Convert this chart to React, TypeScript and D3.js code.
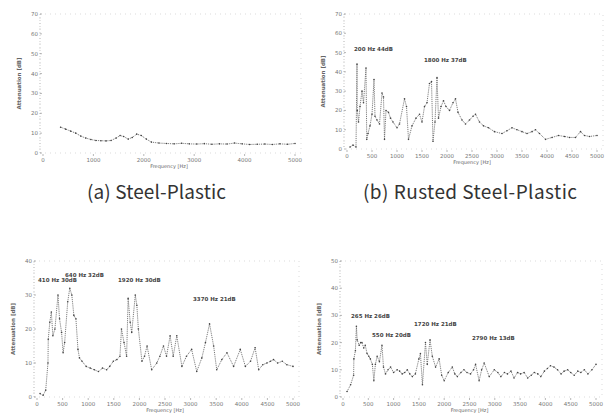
import React from 'react';
import * as d3 from 'd3';

// frequency [Hz], attenuation [dB]
const steelPlastic: [number, number][] = [
  [350, 13], [450, 12], [550, 11], [650, 10], [750, 8.5], [850, 7.5], [950, 6.8], [1050, 6.3],
  [1150, 6.2], [1250, 6.1], [1350, 6.3], [1450, 7.5], [1530, 8.8], [1600, 8.3], [1690, 7],
  [1770, 7.8], [1860, 9.5], [1950, 8.8], [2050, 7], [2150, 5.5], [2300, 5], [2450, 4.8],
  [2600, 4.6], [2750, 4.9], [2900, 4.6], [3050, 4.5], [3200, 4.7], [3350, 4.4], [3500, 4.6],
  [3650, 4.5], [3800, 5], [3950, 4.6], [4100, 4.3], [4250, 4.4], [4400, 4.5], [4550, 4.3],
  [4700, 4.6], [4850, 4.4], [5000, 4.8],
];

const rustedSteelPlastic: [number, number][] = [
  [60, 1], [120, 2], [180, 1], [200, 44], [205, 20], [230, 14], [260, 22], [300, 30], [330, 24],
  [380, 42], [395, 5], [420, 8], [460, 12], [500, 18], [540, 36], [560, 17], [600, 15], [650, 13],
  [700, 29], [730, 27], [750, 5], [780, 20], [830, 19], [870, 16], [920, 14], [1000, 11],
  [1050, 13], [1150, 26], [1190, 22], [1230, 5], [1300, 12], [1380, 16], [1450, 18], [1500, 14],
  [1550, 22], [1600, 24], [1650, 34], [1690, 35], [1720, 4], [1760, 14], [1800, 37], [1830, 16],
  [1880, 22], [1930, 25], [1980, 22], [2050, 20], [2120, 24], [2170, 26], [2220, 19], [2300, 15],
  [2370, 13], [2450, 15], [2520, 17], [2570, 18], [2650, 14], [2730, 12], [2830, 11], [2950, 9],
  [3100, 8], [3200, 9.5], [3300, 11], [3400, 10], [3500, 9], [3600, 8], [3700, 9], [3770, 10],
  [3850, 8], [3970, 5], [4100, 6], [4230, 7], [4350, 6.5], [4450, 6], [4570, 6], [4670, 9],
  [4750, 7], [4850, 6.5], [5000, 7],
];

const seriesC: [number, number][] = [
  [60, 1], [120, 0.5], [170, 2], [214, 10], [220, 17], [250, 22], [280, 25], [310, 18], [350, 20],
  [410, 30], [440, 23], [480, 19], [510, 13], [540, 16], [600, 28], [640, 32], [680, 30], [720, 24],
  [760, 23], [800, 14], [830, 11.5], [880, 10.5], [960, 9], [1040, 8.5], [1120, 8], [1200, 7.5],
  [1280, 8.5], [1360, 8], [1420, 9], [1490, 10.5], [1560, 11], [1620, 12], [1650, 20], [1700, 16],
  [1750, 12], [1780, 29], [1820, 22], [1850, 19], [1920, 30], [1950, 27], [1980, 20], [2050, 10.5],
  [2100, 12], [2150, 15], [2240, 8], [2340, 10], [2400, 12], [2470, 15], [2530, 12], [2600, 18],
  [2660, 12], [2730, 18], [2830, 9], [2920, 12], [3020, 14], [3120, 7.5], [3220, 11.5], [3290, 16],
  [3370, 21.5], [3450, 15], [3510, 8], [3610, 11], [3710, 13], [3840, 9], [3970, 14], [4070, 9],
  [4170, 10.5], [4260, 14.5], [4330, 8], [4410, 9.5], [4490, 10], [4560, 10.5], [4620, 11],
  [4700, 10], [4790, 10.5], [4880, 9.5], [5000, 9],
];

const seriesD: [number, number][] = [
  [80, 2], [150, 4.5], [210, 8], [215, 14], [245, 17], [265, 26], [280, 21], [320, 19], [350, 20],
  [375, 20], [410, 18], [440, 19], [475, 16], [510, 15], [540, 14], [580, 12], [610, 6], [640, 12],
  [675, 15], [720, 13], [770, 19], [800, 11], [840, 8.5], [890, 10], [940, 11], [1000, 9],
  [1070, 10], [1120, 9.5], [1170, 8.5], [1220, 9], [1270, 10], [1320, 8.5], [1370, 7.5],
  [1430, 8.5], [1500, 14], [1530, 16], [1570, 4.5], [1630, 20], [1665, 12], [1720, 21], [1765, 15],
  [1830, 11], [1900, 14], [1950, 8], [2000, 6], [2080, 9], [2160, 11], [2210, 8.5], [2260, 7.5],
  [2330, 9], [2390, 10], [2450, 9], [2520, 8.5], [2580, 10], [2620, 12], [2690, 6], [2740, 10],
  [2790, 12.5], [2890, 7.5], [2990, 10], [3060, 9], [3120, 7.5], [3190, 9], [3250, 8.5],
  [3320, 9.5], [3380, 7], [3450, 9], [3510, 8.5], [3580, 9], [3650, 7], [3720, 8], [3780, 9],
  [3850, 8.5], [3910, 7.5], [3980, 9.5], [4040, 10.5], [4100, 11.5], [4170, 11], [4240, 10],
  [4310, 8.5], [4370, 9.5], [4440, 10], [4500, 9], [4570, 8], [4640, 9.5], [4700, 9], [4770, 10],
  [4840, 8.5], [4920, 10], [5000, 12],
];

// peak annotations: text, anchor frequency, anchor level
const peaksB: [string, number, number][] = [
  ['200 Hz 44dB', 140, 51],
  ['1800 Hz 37dB', 1540, 45],
];
const peaksC: [string, number, number][] = [
  ['410 Hz 30dB', 20, 33.8],
  ['640 Hz 32dB', 547, 35.3],
  ['1920 Hz 30dB', 1582, 33.8],
  ['3370 Hz 21dB', 3047, 28.2],
];
const peaksD: [string, number, number][] = [
  ['265 Hz 26dB', 158, 29],
  ['550 Hz 20dB', 573, 22],
  ['1720 Hz 21dB', 1403, 26],
  ['2790 Hz 13dB', 2549, 21],
];

const ticksA = [0, 1000, 2000, 3000, 4000, 5000];
const ticksB = [0, 500, 1000, 1500, 2000, 2500, 3000, 3500, 4000, 4500, 5000];

type PanelProps = {
  data: [number, number][];
  peaks: [string, number, number][];
  xTicks: number[];
  yMax: number;
  left: number;
  right: number;
  bottom: number;
  top: number;
};

const Panel = ({ data, peaks, xTicks, yMax, left, right, bottom, top }: PanelProps) => {
  const x = d3.scaleLinear().domain([0, 5000]).range([left, right]);
  const y = d3.scaleLinear().domain([0, yMax]).range([bottom, top]);
  const line = d3.line<[number, number]>().x(d => x(d[0])).y(d => y(d[1]));
  const yTicks = d3.range(0, yMax + 1, 10);
  const frameR = right + 6;
  return (
    <g fontFamily="DejaVu Sans" fill="#777">
      <rect x={left - 3} y={top} width={frameR - left + 3} height={bottom - top}
        fill="none" stroke="#c4c4c4" strokeWidth={0.6} strokeDasharray="1 4" />
      <line x1={left - 3} x2={left - 3} y1={top} y2={bottom} stroke="#aaa" strokeWidth={0.6} strokeDasharray="1 2" />
      {yTicks.map(t => (
        <g key={t}>
          <line x1={left - 3} x2={left - 1} y1={y(t)} y2={y(t)} stroke="#888" strokeWidth={0.6} />
          <text x={left - 5} y={y(t) + 2} fontSize={5.5} textAnchor="end">{t}</text>
        </g>
      ))}
      {xTicks.map(t => (
        <g key={t}>
          <line x1={x(t)} x2={x(t)} y1={bottom + 1} y2={bottom + 3} stroke="#888" strokeWidth={0.6} />
          <text x={x(t)} y={bottom + 9} fontSize={5.5} textAnchor="middle">{t}</text>
        </g>
      ))}
      <text x={(left + right) / 2} y={bottom + 15} fontSize={5} textAnchor="middle" fill="#666">Frequency [Hz]</text>
      <text transform={`translate(${left - 22},${(top + bottom) / 2}) rotate(-90)`} fontSize={5.5}
        fontWeight="bold" textAnchor="middle" fill="#666">Attenuation [dB]</text>
      <path d={line(data) ?? ''} fill="none" stroke="#666" strokeWidth={0.9} strokeDasharray="1 0.9" />
      {data.map((d, i) => (
        <circle key={i} cx={x(d[0])} cy={y(d[1])} r={0.8} fill="#444" />
      ))}
      {peaks.map(p => (
        <text key={p[0]} x={x(p[1])} y={y(p[2])} fontSize={5.5} fontWeight="bold" fill="#444">{p[0]}</text>
      ))}
    </g>
  );
};

export default function App() {
  return (
    <svg width={608} height={413} style={{ position: 'absolute', left: 0, top: 0, background: '#fff' }}>
      <Panel data={steelPlastic} peaks={[]} xTicks={ticksA} yMax={70} left={43} right={295} bottom={153} top={14} />
      <Panel data={rustedSteelPlastic} peaks={peaksB} xTicks={ticksB} yMax={70} left={347} right={597} bottom={149} top={14} />
      <Panel data={seriesC} peaks={peaksC} xTicks={ticksB} yMax={40} left={37} right={293} bottom={397} top={261} />
      <Panel data={seriesD} peaks={peaksD} xTicks={ticksB} yMax={50} left={343} right={596} bottom={397} top={261} />
      <text x={87} y={199} fontSize={19} fontFamily="Noto Sans CJK KR" fill="#333" textLength={139}>(a) Steel-Plastic</text>
      <text x={363} y={199} fontSize={19} fontFamily="Noto Sans CJK KR" fill="#333" textLength={214}>(b) Rusted Steel-Plastic</text>
    </svg>
  );
}
